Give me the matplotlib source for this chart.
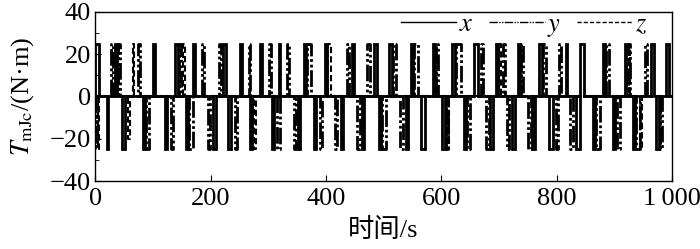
import numpy as np
import matplotlib
matplotlib.use("Agg")
import matplotlib.pyplot as plt
from matplotlib.ticker import MultipleLocator, FuncFormatter

plt.rcParams['font.family'] = ['Liberation Serif', 'Noto Sans CJK SC']
plt.rcParams['mathtext.fontset'] = 'stix'

# 脉冲数据: 开始时间/s, 结束时间/s, 幅值/(N·m)
x_on = [0, 34, 101, 138, 170, 222, 251, 286, 318, 362, 398, 445, 483, 510, 547, 585,
        619, 657, 695, 733, 770, 816, 840, 880, 918, 964, 990,
        20, 47, 83, 121, 157, 204, 231, 269, 306, 352, 379, 426, 463, 492, 538, 565,
        602, 639, 685, 723, 758, 787, 834, 863, 898, 932, 973]
x_off = [6, 38, 104, 143, 173, 226, 255, 290, 321, 366, 402, 449, 488, 514, 551, 589,
         624, 663, 699, 737, 775, 818, 847, 884, 921, 968, 994,
         22, 51, 87, 125, 161, 209, 235, 272, 310, 355, 383, 430, 466, 496, 542, 571,
         606, 643, 690, 728, 762, 793, 840, 867, 902, 936, 977]
x_amp = [25] * 27 + [-25] * 27

y_on = [28, 40, 75, 145, 185, 214, 266, 302, 333, 368, 436, 471, 516, 553, 591, 626,
        669, 707, 739, 777, 804, 886, 923, 953,
        0, 88, 132, 163, 195, 242, 316, 344, 390, 416, 454, 498, 529, 608, 645, 678,
        714, 751, 799, 824, 869, 904, 938, 979]
y_off = [30, 43, 78, 148, 189, 218, 269, 305, 336, 374, 440, 476, 521, 560, 594, 634,
         673, 711, 742, 782, 808, 890, 927, 957,
         2, 94, 135, 170, 199, 245, 320, 348, 393, 419, 459, 504, 533, 612, 650, 682,
         718, 755, 803, 829, 875, 910, 945, 983]
y_amp = [25] * 24 + [-25] * 24

z_on = [65, 152, 404, 700, 925, 5, 56, 275, 610, 760, 945]
z_off = [67, 155, 408, 703, 928, 7, 60, 278, 613, 763, 948]
z_amp = [25, 25, 25, 25, 25, -25, -20, -25, -25, -25, -25]


def pulse_wave(on, off, amp, t_end=1000):
    order = np.argsort(on)
    t = [0.0]
    v = [0.0]
    for i in order:
        t += [on[i], on[i], off[i], off[i]]
        v += [0, amp[i], amp[i], 0]
    t.append(t_end)
    v.append(0)
    return np.array(t), np.array(v)


fig = plt.figure(figsize=(7.0, 2.49), dpi=100)
ax = fig.add_axes([0.136, 0.273, 0.824, 0.679])

tz, vz = pulse_wave(z_on, z_off, z_amp)
ty, vy = pulse_wave(y_on, y_off, y_amp)
tx, vx = pulse_wave(x_on, x_off, x_amp)
lz, = ax.plot(tz, vz, color='black', lw=1.5, ls=(0, (3, 1.5)))
ly, = ax.plot(ty, vy, color='black', lw=2.0, ls=(0, (6, 1, 1, 1, 1, 1)))
lx, = ax.plot(tx, vx, color='black', lw=2.0, ls='-', solid_joinstyle='miter')

ax.set_xlim(0, 1000)
ax.set_ylim(-40, 40)
ax.xaxis.set_major_locator(MultipleLocator(200))
ax.yaxis.set_major_locator(MultipleLocator(20))
ax.yaxis.set_minor_locator(MultipleLocator(10))
ax.xaxis.set_major_formatter(FuncFormatter(
    lambda v, p: '1\u2009000' if v >= 1000 else f'{v:.0f}'))
ax.yaxis.set_major_formatter(FuncFormatter(
    lambda v, p: f'{v:.0f}'.replace('-', '\u2212')))
ax.tick_params(which='both', direction='in', labelsize=19, top=False, right=False)
ax.tick_params(which='major', length=4, pad=3)
ax.tick_params(axis='x', which='major', pad=5)
ax.tick_params(which='minor', length=3)
for s in ax.spines.values():
    s.set_linewidth(1.0)

ax.set_xlabel('时间/s', fontsize=19, labelpad=6)
ax.set_ylabel(r'$T_{\mathrm{mJc}}$/(N·m)', fontsize=19, labelpad=10)

leg = ax.legend([lx, ly, lz], ['$x$', '$y$', '$z$'], ncol=3, frameon=False,
                loc='upper right', bbox_to_anchor=(0.975, 1.06), fontsize=19,
                handlelength=2.1, handletextpad=0.1, columnspacing=0.6,
                borderaxespad=0.0)
for h in leg.get_lines():
    h.set_linewidth(1.0)

fig.savefig('out.png', dpi=100)
